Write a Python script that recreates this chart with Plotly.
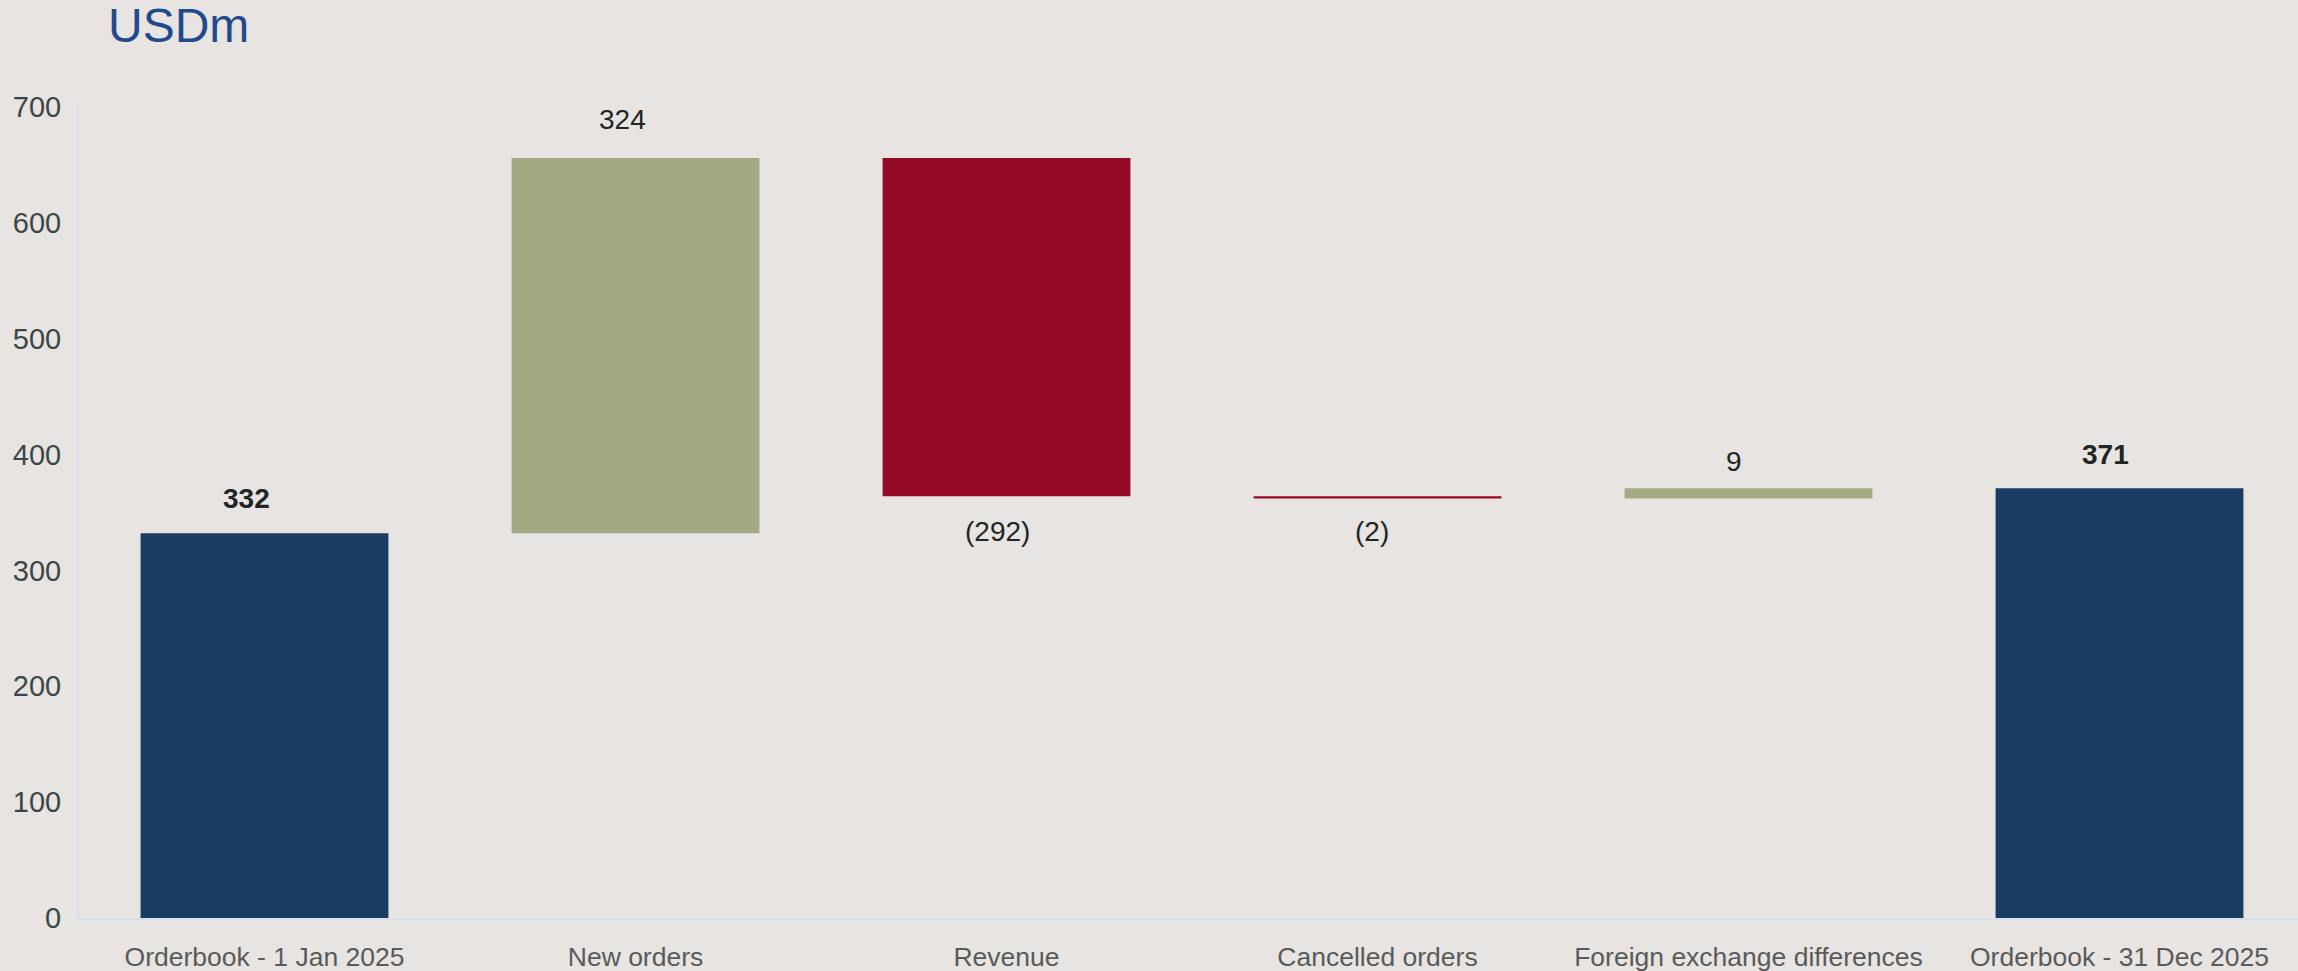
import plotly.graph_objects as go

categories = ["Orderbook - 1 Jan 2025", "New orders", "Revenue", "Cancelled orders",
              "Foreign exchange differences", "Orderbook - 31 Dec 2025"]
values = [332, 324, -292, -2, 9, 371]
measures = ["absolute", "relative", "relative", "relative", "relative", "total"]
labels = ["<b>332</b>", "324", "(292)", "(2)", "9", "<b>371</b>"]
y_ticks = [0, 100, 200, 300, 400, 500, 600, 700]

# styling: pixel offsets of each label centre from its bar end / bar centre
label_offsets = [35, 38, 35, 33, 27, 34]
label_xshift = [-18, -13, -9, -6, -15, -14]

NAVY = "#183c62"
GREEN = "#a4a983"
RED = "#940a26"
BG = "#e7e4e1"
AXIS = "#d5dff0"
FONT = "Liberation Sans, Arial, sans-serif"

fig = go.Figure(go.Waterfall(
    x=categories,
    y=values,
    measure=measures,
    textposition="none",
    connector=dict(visible=False),
    increasing=dict(marker=dict(color=GREEN, line=dict(width=0))),
    decreasing=dict(marker=dict(color=RED, line=dict(width=0))),
    totals=dict(marker=dict(color=NAVY, line=dict(width=0))),
    hoverinfo="x+y",
))

# label anchors derived from the running total
annotations = []
running = 0
for cat, v, m, lab, off, xs in zip(categories, values, measures, labels,
                                   label_offsets, label_xshift):
    if m == "absolute":
        running = v
        y, up = v, True
    elif m == "total":
        y, up = running, True
    else:
        running += v
        y, up = running, v >= 0
    annotations.append(dict(
        x=cat, y=y, xref="x", yref="y", text=lab, showarrow=False,
        yanchor="middle", yshift=off if up else -off, xshift=xs,
        font=dict(family=FONT, size=28, color="#1f2626"),
    ))

annotations.append(dict(
    text="USDm", xref="paper", yref="paper",
    x=(106 - 79) / 2219, y=1 + (107 - 25) / 811,
    xanchor="left", yanchor="middle", showarrow=False,
    font=dict(family=FONT, size=48, color="#1f4b8e"),
))

fig.update_layout(
    width=2298, height=971,
    margin=dict(l=79, r=0, t=107, b=53),
    paper_bgcolor=BG, plot_bgcolor=BG,
    waterfallgap=0.332,
    showlegend=False,
    font=dict(family=FONT),
    annotations=annotations,
)
fig.update_yaxes(
    range=[0, 700], tickvals=y_ticks, showgrid=False, zeroline=False,
    showline=True, linecolor=AXIS, linewidth=2,
    ticks="", tickfont=dict(family=FONT, size=29, color="#3b4747"),
    ticklabelstandoff=10,
)
fig.update_xaxes(
    range=[-0.5, -0.5 + 2219 / 371],
    showgrid=False, showline=True, linecolor=AXIS, linewidth=2,
    ticks="", tickfont=dict(family=FONT, size=26.5, color="#5a5a5a"),
    ticklabelstandoff=14,
)

fig.write_html("out.html")
